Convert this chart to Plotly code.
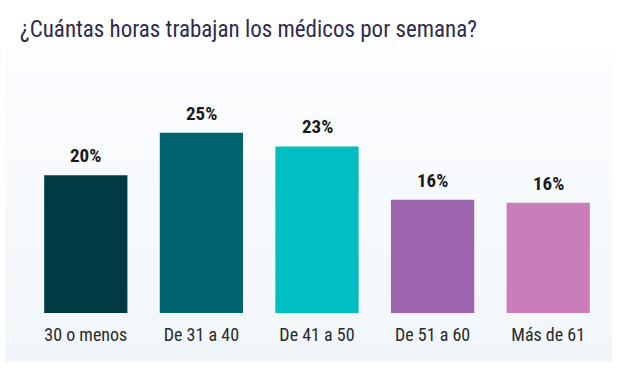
import plotly.graph_objects as go

categories = ["30 o menos", "De 31 a 40", "De 41 a 50", "De 51 a 60", "Más de 61"]
values = [19.1, 25.0, 23.1, 15.7, 15.3]
value_labels = ["20%", "25%", "23%", "16%", "16%"]
colors = ["#023a44", "#00646e", "#00bec2", "#9c63ae", "#c97db9"]
title_text = "¿Cuántas horas trabajan los médicos por semana?"

FONT = "Roboto Condensed, Liberation Sans Narrow, DejaVu Sans Condensed, Roboto, sans-serif"

fig = go.Figure(go.Bar(
    x=categories,
    y=values,
    marker=dict(color=colors, line=dict(width=0)),
    hoverinfo="skip",
))

for cat, val, lab in zip(categories, values, value_labels):
    fig.add_annotation(
        x=cat, y=val, text=lab, showarrow=False,
        xanchor="center", yanchor="bottom", yshift=6,
        font=dict(family=FONT, size=19, color="#1a1a1a", weight="bold"),
    )

W, H = 620, 368
ml, mr, mt, mb = 28, 14, 40, 55
pw, ph = W - ml - mr, H - mt - mb

def px_to_paper_x(px):
    return (px - ml) / pw

def px_to_paper_y(py):
    return (H - mb - py) / ph

# subtle vertical gradient panel behind the chart
top_c = (252, 253, 255)
bot_c = (241, 246, 250)
y0, y1 = 47, 362
n = 14
shapes = []
for i in range(n):
    t = i / (n - 1)
    c = tuple(round(top_c[k] + (bot_c[k] - top_c[k]) * t) for k in range(3))
    ya = y0 + (y1 - y0) * i / n
    yb = y0 + (y1 - y0) * (i + 1) / n
    shapes.append(dict(
        type="rect", xref="paper", yref="paper", layer="below",
        x0=px_to_paper_x(5), x1=px_to_paper_x(612),
        y0=px_to_paper_y(yb), y1=px_to_paper_y(ya),
        fillcolor="rgb(%d,%d,%d)" % c, line=dict(width=0),
    ))

fig.update_layout(
    width=W, height=H,
    margin=dict(l=ml, r=mr, t=mt, b=mb),
    paper_bgcolor="white",
    plot_bgcolor="rgba(0,0,0,0)",
    bargap=0.28,
    showlegend=False,
    shapes=shapes,
    title=dict(
        text=title_text,
        x=20 / W, xanchor="left", xref="container",
        y=1 - 29 / H, yanchor="middle", yref="container",
        font=dict(family=FONT, size=23, color="#2e2b50"),
    ),
    xaxis=dict(
        type="category", range=[-0.5, 4.5],
        showgrid=False, zeroline=False, showline=False, ticks="",
        tickfont=dict(family=FONT, size=18, color="#2a2a2a"),
        ticklabelstandoff=9,
    ),
    yaxis=dict(
        range=[0, ph / 7.21], visible=False, showgrid=False, zeroline=False,
    ),
)

fig.write_html(
    "out.html",
    config={"displayModeBar": False},
    post_script="document.body.style.margin='0';",
)
